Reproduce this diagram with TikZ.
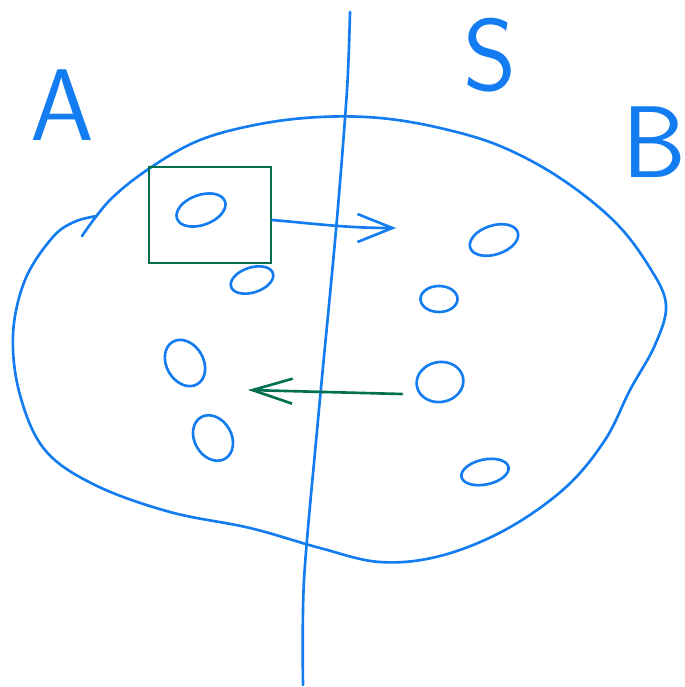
\documentclass[tikz,border=0pt]{standalone}
\usepackage{fontspec}
\usepackage{tikz}
\usetikzlibrary{shapes.geometric, arrows.meta, positioning, calc}
\definecolor{InkBlue}{RGB}{18, 124, 240}
\definecolor{InkGreen}{RGB}{0, 112, 80}
\begin{document}
\begin{tikzpicture}[
    x=0.02cm,
    y=-0.02cm,
    inkline/.style={
        draw=InkBlue,
        line width=1.5pt,
        line cap=round,
        line join=round
    },
    letterlabel/.style={
        text=InkBlue,
        font=\fontsize{58}{60}\selectfont\sffamily,
        inner sep=0pt
    },
    pointblob/.style={
        ellipse,
        draw=InkBlue,
        line width=1.5pt,
        inner sep=0pt
    },
    selectbox/.style={
        rectangle,
        draw=InkGreen,
        line width=1.3pt,
        minimum width=2.44cm,
        minimum height=1.92cm,
        inner sep=0pt
    }
]
\useasboundingbox (0,0) rectangle (684,687);
% -------------------------------------------------------------
% SET BOUNDARY
% -------------------------------------------------------------
\draw[inkline] plot[smooth, tension=0.6] coordinates {
    (82,236) (110,200) (150,168) (200,140) (260,124) (320,117)
    (380,118) (440,128) (500,146) (560,178) (615,222) (650,268)
    (666,305) (655,345) (630,390) (605,440) (565,488) (505,530)
    (440,556) (380,562) (320,548) (250,528) (170,512) (95,485)
    (45,450) (20,395) (13,335) (25,280) (52,238) (74,222) (97,216)
};
% -------------------------------------------------------------
% CUT LINE
% -------------------------------------------------------------
\draw[inkline] plot[smooth, tension=0.5] coordinates {
    (350,12) (347,90) (336,230) (318,420) (304,580) (303,685)
};
% -------------------------------------------------------------
% LABELS
% -------------------------------------------------------------
\node[letterlabel] (labelA) at (62,105) {A};
\node[letterlabel] (labelS) at (490,55) {S};
\node[letterlabel] (labelB) at (654,142) {B};
% -------------------------------------------------------------
% POINTS
% -------------------------------------------------------------
\node[pointblob, minimum width=1.02cm, minimum height=0.6cm, rotate=20] (pointA) at (201,210) {};
\node[pointblob, minimum width=0.88cm, minimum height=0.5cm, rotate=18] (pointB) at (252,280) {};
\node[pointblob, minimum width=1.0cm, minimum height=0.58cm, rotate=18] (pointC) at (494,240) {};
\node[pointblob, minimum width=0.74cm, minimum height=0.52cm] (pointD) at (439,299) {};
\node[pointblob, minimum width=0.98cm, minimum height=0.74cm, rotate=-60] (pointE) at (185,363) {};
\node[pointblob, minimum width=0.94cm, minimum height=0.8cm, rotate=10] (pointF) at (440,382) {};
\node[pointblob, minimum width=0.96cm, minimum height=0.74cm, rotate=-60] (pointG) at (213,438) {};
\node[pointblob, minimum width=0.96cm, minimum height=0.5cm, rotate=12] (pointH) at (485,472) {};
% -------------------------------------------------------------
% SELECTION BOX
% -------------------------------------------------------------
\node[selectbox] (selBox) at (210,215) {};
% -------------------------------------------------------------
% MOVE RIGHT
% -------------------------------------------------------------
\coordinate (rightEnd) at (396,228);
\draw[
    inkline,
    -{Straight Barb[length=0.7cm, width=0.56cm, line width=1.5pt]}
]
([yshift=-0.1cm]selBox.east)
to[out=-5,in=180]
(rightEnd);
% -------------------------------------------------------------
% MOVE LEFT
% -------------------------------------------------------------
\coordinate (leftStart) at (402,394);
\coordinate (leftEnd) at (248,390);
\draw[
    draw=InkGreen,
    line width=1.5pt,
    line cap=round,
    -{Straight Barb[length=0.8cm, width=0.5cm, line width=1.5pt]}
]
(leftStart)
--
(leftEnd);
\end{tikzpicture}
\end{document}
